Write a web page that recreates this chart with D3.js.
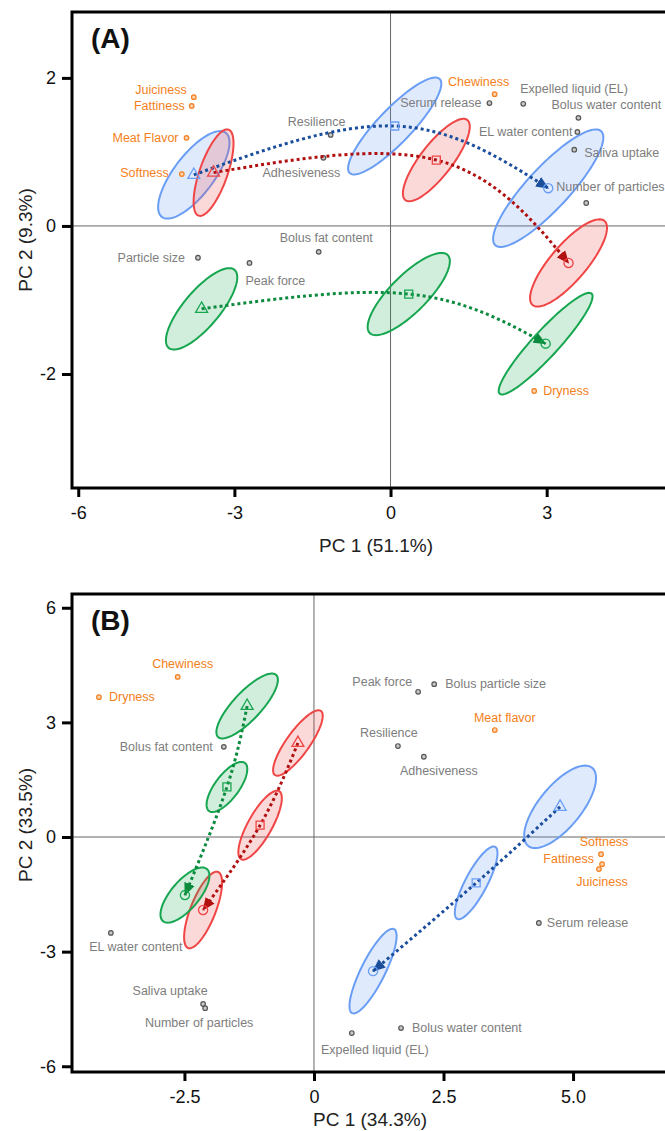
<!DOCTYPE html>
<html><head><meta charset="utf-8">
<script src="https://cdn.jsdelivr.net/npm/d3@7"></script>
<style>
body{margin:0;background:#fff}
svg{display:block}
text{font-family:"Liberation Sans",Arial,Helvetica,sans-serif}
</style>
</head><body>
<svg id="chart" width="665" height="1131"></svg>
<script>
// ---------------- DATA ----------------
// Panel A : variable loadings
const A_varNames = ["Juiciness","Fattiness","Meat Flavor","Softness","Chewiness","Dryness",
  "Resilience","Adhesiveness","Serum release","Expelled liquid (EL)","Bolus water content",
  "EL water content","Saliva uptake","Number of particles","Particle size","Peak force","Bolus fat content"];
const A_varPC1 = [-3.78,-3.82,-3.92,-4.01,2.00,2.76,-1.15,-1.29,1.90,2.55,3.61,3.59,3.53,3.76,-3.70,-2.71,-1.38];
const A_varPC2 = [1.74,1.62,1.19,0.70,1.78,-2.23,1.23,0.92,1.66,1.65,1.46,1.27,1.03,0.31,-0.43,-0.50,-0.35];
const A_varType = ["S","S","S","S","S","S","I","I","I","I","I","I","I","I","I","I","I"];

// Panel A : group centroids per stage (triangle, square, circle) [PC1, PC2]
const A_blue  = [[-3.78,0.69],[0.08,1.35],[3.03,0.51]];
const A_red   = [[-3.40,0.72],[0.88,0.89],[3.42,-0.50]];
const A_green = [[-3.63,-1.12],[0.35,-0.92],[2.98,-1.59]];
// Panel A : confidence ellipse axes [a_pc1, a_pc2, b_pc1, b_pc2] (semi-axis vectors, data units)
const A_blueEll  = [[0.614,0.568,0.305,-0.164],[0.864,0.635,0.236,-0.159],[1.017,0.770,0.296,-0.193]];
const A_redEll   = [[0.288,0.581,0.253,-0.062],[0.595,0.541,0.242,-0.132],[0.691,0.568,0.263,-0.158]];
const A_greenEll = [[0.633,0.527,0.263,-0.157],[0.749,0.527,0.251,-0.177],[0.883,0.676,0.184,-0.119]];

// Panel B : variable loadings
const B_varNames = ["Chewiness","Dryness","Meat flavor","Softness","Fattiness","Juiciness",
  "Bolus fat content","Peak force","Bolus particle size","Resilience","Adhesiveness","Serum release",
  "EL water content","Saliva uptake","Number of particles","Bolus water content","Expelled liquid (EL)"];
const B_varPC1 = [-2.63,-4.15,3.49,5.54,5.56,5.50,-1.74,2.01,2.32,1.62,2.12,4.34,-3.92,-2.14,-2.10,1.68,0.73];
const B_varPC2 = [4.19,3.66,2.80,-0.45,-0.71,-0.84,2.36,3.80,4.00,2.38,2.10,-2.25,-2.51,-4.37,-4.48,-5.00,-5.13];
const B_varType = ["S","S","S","S","S","S","I","I","I","I","I","I","I","I","I","I","I"];

const B_blue  = [[4.75,0.79],[3.13,-1.20],[1.14,-3.51]];
const B_red   = [[-0.31,2.46],[-1.04,0.31],[-2.14,-1.91]];
const B_green = [[-1.29,3.43],[-1.68,1.31],[-2.49,-1.52]];
const B_blueEll  = [[0.618,1.021,0.315,-0.348],[0.367,0.942,0.187,-0.134],[0.405,1.099,0.207,-0.141]];
const B_redEll   = [[0.444,0.838,0.180,-0.175],[0.367,0.890,0.203,-0.152],[0.290,0.995,0.224,-0.120]];
const B_greenEll = [[0.560,0.812,0.197,-0.249],[0.347,0.628,0.185,-0.188],[0.425,0.681,0.207,-0.238]];

// Axis ticks
const A_xTicks = [-6,-3,0,3];
const A_yTicks = [-2,0,2];
const B_xTicks = [-2.5,0,2.5,5];
const B_yTicks = [-6,-3,0,3,6];

// ---------------- LAYOUT / STYLE ----------------
const A_labelPlace = {
  "Juiciness":["end",-7,-7],"Fattiness":["end",-7,0],"Meat Flavor":["end",-8,0],"Softness":["end",-13,-1],
  "Chewiness":["middle",-16,-12],"Dryness":["start",9,0],"Resilience":["middle",-14,-13],
  "Adhesiveness":["middle",-22,15],"Serum release":["end",-8,0],"Expelled liquid (EL)":["start",-3,-15],
  "Bolus water content":["start",-27,-13],"EL water content":["end",-5,0],"Saliva uptake":["start",10,3],
  "Number of particles":["start",-30,-16],"Particle size":["end",-13,0],"Peak force":["start",-4,18],
  "Bolus fat content":["start",-39,-14]
};
const B_labelPlace = {
  "Chewiness":["middle",5,-13],"Dryness":["start",10,0],"Meat flavor":["middle",10,-12],
  "Softness":["middle",3,-12],"Fattiness":["end",-8,-5],"Juiciness":["middle",3,13],
  "Bolus fat content":["end",-11,0],"Peak force":["end",-6,-10],"Bolus particle size":["start",11,0],
  "Resilience":["middle",-9,-13],"Adhesiveness":["middle",15,14],"Serum release":["start",8,0],
  "EL water content":["middle",25,14],"Saliva uptake":["middle",-33,-13],"Number of particles":["middle",-6,15],
  "Bolus water content":["start",11,0],"Expelled liquid (EL)":["middle",23,17]
};

const colors = {
  blue:  {stroke:"#6a9ef5", fill:"rgba(100,150,245,0.2)", line:"#1b4f9c"},
  red:   {stroke:"#f04545", fill:"rgba(240,64,64,0.2)",  line:"#b01010"},
  green: {stroke:"#17a650", fill:"rgba(24,165,80,0.2)",  line:"#0c8a3e"}
};
const orange = "#f47f20", grayTxt = "#7d7d7d";

const svg = d3.select("#chart");
const defs = svg.append("defs");
Object.entries(colors).forEach(([k,c])=>{
  defs.append("marker").attr("id","arr-"+k)
    .attr("viewBox","0 -6 13 12").attr("refX",12).attr("refY",0)
    .attr("markerWidth",13).attr("markerHeight",12)
    .attr("markerUnits","userSpaceOnUse").attr("orient","auto")
    .append("path").attr("d","M0,-5.5L13,0L0,5.5Z").attr("fill",c.line);
});

function drawPanel(cfg){
  const g = svg.append("g");
  const x = d3.scaleLinear().domain(cfg.xDomain).range([cfg.left, cfg.right]);
  const y = d3.scaleLinear().domain(cfg.yDomain).range([cfg.bottom, cfg.top]);

  // zero lines
  g.append("line").attr("x1",x(0)).attr("x2",x(0)).attr("y1",cfg.top).attr("y2",cfg.bottom)
    .attr("stroke","#666").attr("stroke-width",1);
  g.append("line").attr("x1",cfg.left).attr("x2",cfg.right).attr("y1",y(0)).attr("y2",y(0))
    .attr("stroke","#666").attr("stroke-width",1);

  const series = [["blue",cfg.blue,cfg.blueEll],["red",cfg.red,cfg.redEll],["green",cfg.green,cfg.greenEll]];

  // ellipses
  series.forEach(([k,cent,ell])=>{
    cent.forEach((c,i)=>{
      const e = ell[i];
      const pts = d3.range(0,97).map(j=>{
        const t = j/96*2*Math.PI;
        return [x(c[0]+e[0]*Math.cos(t)+e[2]*Math.sin(t)), y(c[1]+e[1]*Math.cos(t)+e[3]*Math.sin(t))];
      });
      g.append("path").attr("d", d3.line().curve(d3.curveLinearClosed)(pts))
        .attr("fill",colors[k].fill).attr("stroke",colors[k].stroke).attr("stroke-width",2);
    });
  });

  // variable points
  const vars = cfg.names.map((n,i)=>({n, px:cfg.pc1[i], py:cfg.pc2[i], t:cfg.type[i]}));
  g.selectAll(".vpt").data(vars).enter().append("circle")
    .attr("cx",d=>x(d.px)).attr("cy",d=>y(d.py)).attr("r",2.3)
    .attr("fill",d=>d.t==="S"?"#fbd2ae":"#c8c8c8")
    .attr("stroke",d=>d.t==="S"?orange:"#555").attr("stroke-width",1.2);
  g.selectAll(".vlab").data(vars).enter().append("text")
    .attr("x",d=>x(d.px)+cfg.place[d.n][1]).attr("y",d=>y(d.py)+cfg.place[d.n][2])
    .attr("text-anchor",d=>cfg.place[d.n][0]).attr("dominant-baseline","central")
    .attr("font-size",12.5).attr("fill",d=>d.t==="S"?orange:grayTxt).text(d=>d.n);

  // trajectories
  series.forEach(([k,cent])=>{
    g.append("path").attr("d", d3.line().x(d=>x(d[0])).y(d=>y(d[1])).curve(d3.curveNatural)(cent))
      .attr("fill","none").attr("stroke",colors[k].line).attr("stroke-width",3)
      .attr("stroke-dasharray","3 3").attr("marker-end","url(#arr-"+k+")");
  });

  // centroid symbols
  const syms = [d3.symbol(d3.symbolTriangle,62), d3.symbol(d3.symbolSquare,64), d3.symbol(d3.symbolCircle,66)];
  series.forEach(([k,cent])=>{
    cent.forEach((c,i)=>{
      g.append("path").attr("d",syms[i]())
        .attr("transform",`translate(${x(c[0])},${y(c[1])})`)
        .attr("fill","none").attr("stroke",colors[k].stroke).attr("stroke-width",1.3);
    });
  });

  // axes
  const xAxis = g.append("g").attr("transform",`translate(0,${cfg.bottom})`)
    .call(d3.axisBottom(x).tickValues(cfg.xTicks).tickSize(9).tickPadding(9).tickFormat(cfg.xFmt));
  const yAxis = g.append("g").attr("transform",`translate(${cfg.left},0)`)
    .call(d3.axisLeft(y).tickValues(cfg.yTicks).tickSize(10).tickPadding(6).tickFormat(d=>String(d)));
  [xAxis,yAxis].forEach(a=>{
    a.select(".domain").remove();
    a.selectAll(".tick line").attr("stroke","#000").attr("stroke-width",3);
    a.selectAll(".tick text").attr("font-size",18).attr("fill","#111")
      .style("font-family","'Liberation Sans',Arial,sans-serif");
  });

  // frame
  g.append("rect").attr("x",cfg.left).attr("y",cfg.top)
    .attr("width",cfg.right-cfg.left).attr("height",cfg.bottom-cfg.top)
    .attr("fill","none").attr("stroke","#000").attr("stroke-width",3);

  // titles
  g.append("text").attr("x",cfg.xTitleX).attr("y",cfg.xTitleY).attr("text-anchor","middle")
    .attr("dominant-baseline","central").attr("font-size",19).attr("fill","#222").text(cfg.xTitle);
  g.append("text").attr("transform",`translate(25,${cfg.yTitleY}) rotate(-90)`).attr("text-anchor","middle")
    .attr("dominant-baseline","central").attr("font-size",19).attr("fill","#222").text(cfg.yTitle);
  g.append("text").attr("x",cfg.left+19).attr("y",cfg.top+36).attr("font-size",28).attr("font-weight","bold")
    .attr("fill","#111").text(cfg.tag);
}

drawPanel({
  xDomain:[-6.12,5.6], yDomain:[-3.54,2.89], left:72, right:682, top:12, bottom:488,
  names:A_varNames, pc1:A_varPC1, pc2:A_varPC2, type:A_varType, place:A_labelPlace,
  blue:A_blue, red:A_red, green:A_green, blueEll:A_blueEll, redEll:A_redEll, greenEll:A_greenEll,
  xTicks:A_xTicks, yTicks:A_yTicks, xFmt:d=>String(d),
  xTitle:"PC 1 (51.1%)", yTitle:"PC 2 (9.3%)", xTitleX:376, xTitleY:545, yTitleY:240, tag:"(A)"
});
drawPanel({
  xDomain:[-4.67,6.9], yDomain:[-6.15,6.36], left:72, right:671.5, top:594, bottom:1072,
  names:B_varNames, pc1:B_varPC1, pc2:B_varPC2, type:B_varType, place:B_labelPlace,
  blue:B_blue, red:B_red, green:B_green, blueEll:B_blueEll, redEll:B_redEll, greenEll:B_greenEll,
  xTicks:B_xTicks, yTicks:B_yTicks, xFmt:d=>d===0?"0":d.toFixed(1),
  xTitle:"PC 1 (34.3%)", yTitle:"PC 2 (33.5%)", xTitleX:370, xTitleY:1119, yTitleY:825, tag:"(B)"
});
</script>
</body></html>
